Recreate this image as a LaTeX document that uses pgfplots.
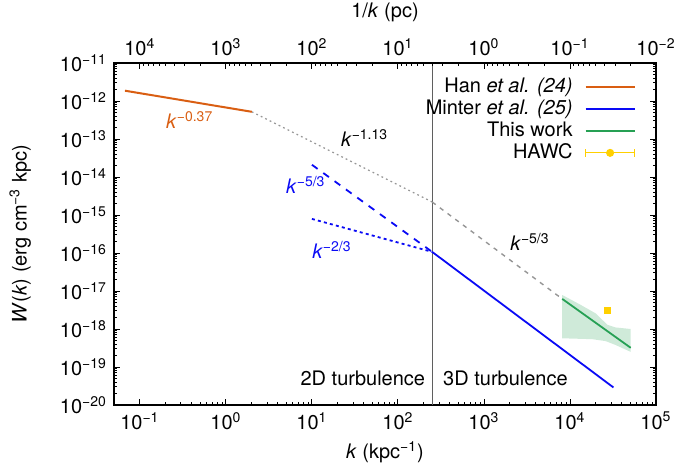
\documentclass[border=0pt]{standalone}
\usepackage{fontspec}
\setmainfont{TeX Gyre Heros}
\usepackage{pgfplots}
\pgfplotsset{compat=1.18}

\definecolor{hanorange}{RGB}{217,94,18}
\definecolor{minterblue}{RGB}{10,10,245}
\definecolor{thisgreen}{RGB}{38,160,84}
\definecolor{bandgreen}{RGB}{38,160,84}
\definecolor{hawc}{RGB}{255,208,0}
\definecolor{guide}{RGB}{150,150,150}
\definecolor{divider}{RGB}{95,95,95}

\newcommand{\tp}[1]{10\textsuperscript{#1}}
\newcommand{\kk}[1]{\textit{k}\textsuperscript{#1}}

\begin{document}
\begin{tikzpicture}
\begin{axis}[
  scale only axis,
  width=271pt, height=171pt,
  xmode=log, ymode=log,
  xmin=0.05, xmax=1e5,
  ymin=1e-20, ymax=1e-11,
  axis line style={line width=0.9pt},
  every tick/.style={black, line width=0.45pt},
  major tick length=3.2pt,
  minor tick length=1.7pt,
  tick align=inside,
  xtick pos=left,
  ytick pos=both,
  yticklabel pos=left,
  xtick={0.1,1,10,100,1000,10000,100000},
  xticklabels={\tp{−1},\tp{0},\tp{1},\tp{2},\tp{3},\tp{4},\tp{5}},
  ytick={1e-20,1e-19,1e-18,1e-17,1e-16,1e-15,1e-14,1e-13,1e-12,1e-11},
  yticklabels={\tp{−20},\tp{−19},\tp{−18},\tp{−17},\tp{−16},\tp{−15},\tp{−14},\tp{−13},\tp{−12},\tp{−11}},
  xlabel={\textit{k} (kpc\textsuperscript{−1})},
  ylabel={\textit{W}(\textit{k}) (erg cm\textsuperscript{−3} kpc)},
  xlabel style={at={(axis description cs:0.5,-0.137)}, anchor=center},
  ylabel style={at={(axis description cs:-0.173,0.5)}, anchor=center},
  legend cell align=right,
  legend plot pos=right,
  legend style={draw=none, fill=none, at={(rel axis cs:0.974,0.975)}, anchor=north east,
    nodes={inner sep=1pt}, row sep=0.2pt},
  legend image code/.code={\path[draw=none] (0pt,0pt) -- (5.5pt,0pt); \draw[#1] (5.5pt,0pt) -- (30pt,0pt);},
]
\coordinate (sw) at (rel axis cs:0,0);

% boundary between the 2D and 3D regimes
\addplot[divider, line width=0.6pt, forget plot] coordinates {(250,1e-20) (250,1e-11)};

% uncertainty band of the fitted spectrum
\addplot[draw=none, fill=bandgreen, fill opacity=0.22, forget plot] coordinates {
  (8128,7.85e-18) (12735,4.57e-18) (19953,2.57e-18) (27230,1.29e-18)
  (33884,1.10e-18) (50816,1.0e-18)
  (50816,2.5e-19) (33884,3.8e-19) (26000,4.8e-19) (18200,5.4e-19) (8128,5.7e-19)
} -- cycle;

% guide power laws
\addplot[guide, line width=0.6pt, dash pattern=on 0.9pt off 1.6pt, forget plot]
  coordinates {(2,5.2e-13) (250,2.2e-15)};
\addplot[guide, line width=0.7pt, dash pattern=on 2.2pt off 2.6pt, forget plot]
  coordinates {(250,2.2e-15) (8128,6.2e-18)};

% Han et al.
\addplot[hanorange, line width=1pt, forget plot] coordinates {(0.067,1.87e-12) (2,5.2e-13)};

% Minter et al.
\addplot[minterblue, line width=0.9pt, forget plot] coordinates {(250,1.07e-16) (32000,2.9e-20)};
\addplot[minterblue, line width=0.9pt, dash pattern=on 3.5pt off 3.5pt, forget plot]
  coordinates {(10,2.1e-14) (250,1.07e-16)};
\addplot[minterblue, line width=0.9pt, dash pattern=on 1.5pt off 1.6pt, forget plot]
  coordinates {(10,7.9e-16) (250,1.07e-16)};

% this work
\addplot[thisgreen, line width=0.9pt, forget plot] coordinates {(8128,6.2e-18) (50816,3.2e-19)};

% HAWC
\addplot[hawc, only marks, mark=square*, mark size=1.5pt, forget plot] coordinates {(27000,3.0e-18)};

% slope annotations
\node[hanorange] at (axis cs:0.38,3.2e-13) {\kk{−0.37}};
\node[black] at (axis cs:41,1.07e-13) {\kk{−1.13}};
\node[minterblue] at (axis cs:8.5,6.2e-15) {\kk{−5/3}};
\node[minterblue] at (axis cs:17.1,1.2e-16) {\kk{−2/3}};
\node[black] at (axis cs:3430,1.94e-16) {\kk{−5/3}};
\node[anchor=east] at (axis cs:250,5.1e-20) {2D turbulence\hspace{2pt}};
\node[anchor=west] at (axis cs:250,5.1e-20) {\hspace{2pt}3D turbulence};

\addlegendimage{hanorange, line width=0.9pt}
\addlegendentry{Han \textit{et al.} \textit{(24)}}
\addlegendimage{minterblue, line width=0.9pt}
\addlegendentry{Minter \textit{et al.} \textit{(25)}}
\addlegendimage{thisgreen, line width=0.9pt}
\addlegendentry{This work}
\addlegendimage{legend image code/.code={
  \path[draw=none] (0pt,0pt) -- (5.5pt,0pt);
  \draw[hawc, line width=0.6pt] (5.5pt,0pt) -- (30pt,0pt);
  \draw[hawc, line width=0.6pt] (5.5pt,-2pt) -- (5.5pt,2pt);
  \draw[hawc, line width=0.6pt] (30pt,-2pt) -- (30pt,2pt);
  \fill[hawc] (17.75pt,0pt) circle (1.8pt);}}
\addlegendentry{HAWC}
\end{axis}

% parsec scale along the top
\begin{axis}[
  scale only axis,
  width=271pt, height=171pt,
  xmode=log,
  xmin=0.01, xmax=20000,
  x dir=reverse,
  axis x line*=top,
  axis y line=none,
  ymin=0, ymax=1,
  axis line style={line width=0.9pt},
  every tick/.style={black, line width=0.45pt},
  major tick length=3.2pt,
  minor tick length=1.7pt,
  tick align=inside,
  xtick={0.01,0.1,1,10,100,1000,10000},
  xticklabels={\tp{−2},\tp{−1},\tp{0},\tp{1},\tp{2},\tp{3},\tp{4}},
  xlabel={1/\textit{k} (pc)},
  xlabel style={at={(axis description cs:0.5,1.149)}, anchor=center},
]
\end{axis}

\pgfresetboundingbox
\path (sw) ++(-57pt,-31pt) rectangle ++(340pt,233.5pt);
\end{tikzpicture}
\end{document}
